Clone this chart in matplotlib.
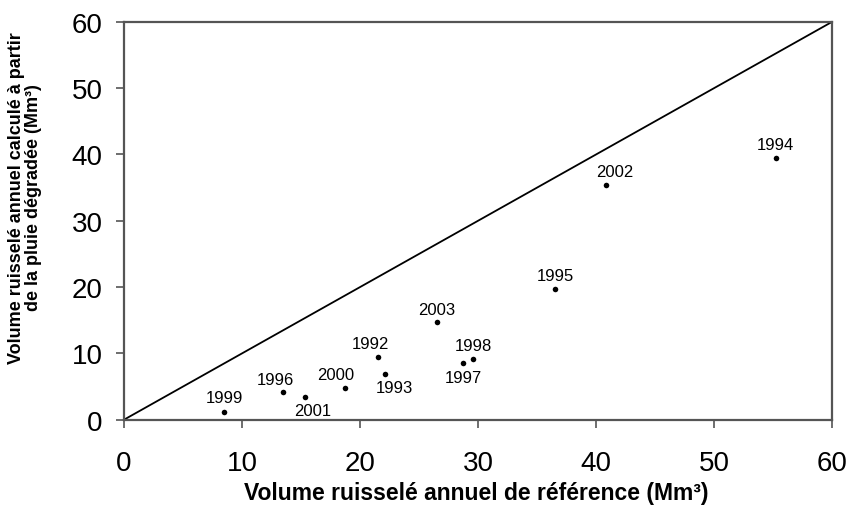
import matplotlib
matplotlib.use("Agg")
import matplotlib.pyplot as plt

# annual runoff volumes (Mm3): reference vs computed from degraded rainfall
years = ["1999", "1996", "2001", "2000", "1992", "1993", "2003", "1997", "1998", "1995", "2002", "1994"]
vol_ref = [8.5, 13.5, 15.3, 18.7, 21.5, 22.1, 26.5, 28.7, 29.6, 36.5, 40.8, 55.2]
vol_calc = [1.1, 4.2, 3.35, 4.85, 9.4, 6.95, 14.7, 8.55, 9.15, 19.7, 35.35, 39.5]

# label offsets in pixels (dx, dy) for each year
offsets = [(0, 15), (-8, 12), (8, -13), (-9, 13), (-7, 14), (9, -14),
           (0, 13), (1, -15), (0, 14), (0, 14), (9, 14), (0, 13)]

fig = plt.figure(figsize=(8.5, 5.1), dpi=100)
ax = fig.add_axes([0.1459, 0.1751, 0.8333, 0.7804])

ax.plot([0, 60], [0, 60], color="black", lw=1.3)
ax.scatter(vol_ref, vol_calc, s=16, color="black", zorder=3, linewidths=0)

for yr, x, y, (dx, dy) in zip(years, vol_ref, vol_calc, offsets):
    ax.annotate(yr, (x, y), xytext=(dx, dy), textcoords="offset pixels",
                ha="center", va="center", fontsize=12, family="Liberation Sans")

ax.set_xlim(0, 60)
ax.set_ylim(0, 60)
ax.set_xticks(range(0, 61, 10))
ax.set_yticks(range(0, 61, 10))
ax.tick_params(direction="out", length=5.5, width=1.2, labelsize=20, color="#555555")
ax.tick_params(axis="x", pad=16)
ax.tick_params(axis="y", pad=10)
for lab in ax.get_xticklabels() + ax.get_yticklabels():
    lab.set_family("Liberation Sans")
for sp in ax.spines.values():
    sp.set_linewidth(1.6)
    sp.set_color("#555555")

ax.set_xlabel("Volume ruisselé annuel de référence (Mm³)", fontsize=16.5,
              fontweight="bold", family="Liberation Sans")
ax.xaxis.set_label_coords(0.497, -0.155)
ax.set_ylabel("Volume ruisselé annuel calculé à partir\nde la pluie dégradée (Mm³)",
              fontsize=13, fontweight="bold", family="Liberation Sans",
              linespacing=1.0)
ax.yaxis.set_label_coords(-0.116, 0.56)

fig.savefig("out.png", dpi=100)
